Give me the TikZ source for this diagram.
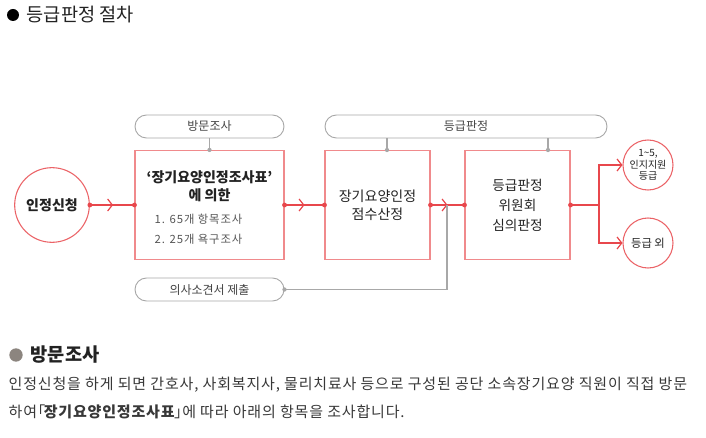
\documentclass[tikz,border=0pt]{standalone}
\usepackage{fontspec}
\setmainfont{Noto Sans CJK KR}
\usetikzlibrary{arrows.meta,decorations.markings}
\definecolor{linered}{HTML}{E8474C}
\definecolor{boxred}{HTML}{F08A8C}
\definecolor{pillgray}{HTML}{A8A8A8}
\definecolor{txtdark}{HTML}{222222}
\definecolor{listgray}{HTML}{555555}
\definecolor{dotgray}{HTML}{8C857F}
\tikzset{
  stepbox/.style={draw=boxred, line width=0.8pt, minimum height=81.75pt, inner sep=0pt},
  pill/.style={draw=pillgray, line width=0.7pt, rounded corners=8.6pt, minimum height=17.25pt,
    inner sep=0pt, font=\fontsize{9}{11}\selectfont, text=txtdark!85},
  redcirc/.style={circle, draw=linered!85, line width=0.8pt, inner sep=0pt, align=center},
  redline/.style={draw=linered, line width=0.9pt},
  grayline/.style={draw=pillgray, line width=0.8pt},
  chev/.style={postaction={decorate, decoration={markings,
    mark=at position #1 with {\arrow{Straight Barb[length=3.5pt,width=9pt,line width=0.9pt]}}}}},
  tip/.style={-{Straight Barb[length=3.5pt,width=9pt,line width=0.9pt]}},
}
\begin{document}
\begin{tikzpicture}[x=0.75pt, y=-0.75pt, text=txtdark]
\useasboundingbox (0,0) rectangle (706,438);
% title
\node[circle, fill=black, minimum size=9pt, inner sep=0pt] (tdot) at (13,15) {};
\node[anchor=west, font=\fontsize{14}{15}\selectfont] (title) at (22,15) {등급판정 절차};
% main flow
\node[redcirc, minimum size=56pt, font=\fontsize{10.5}{12}\selectfont\bfseries] (apply) at (52,205) {인정신청};
\node[stepbox, minimum width=111.75pt] (box1) at (209.5,205) {};
\node[stepbox, minimum width=78.75pt] (box2) at (377.5,205) {};
\node[stepbox, minimum width=78.75pt] (box3) at (517.5,205) {};
\node[redcirc, minimum size=37.5pt, font=\fontsize{7.5}{8.5}\selectfont] (grade1) at (648,165) {1\textasciitilde5,\\인지지원\\등급};
\node[redcirc, minimum size=37.5pt, font=\fontsize{8.5}{10}\selectfont] (grade2) at (648,243) {등급 외};
% box texts
\node[font=\fontsize{10.5}{13.5}\selectfont\bfseries, align=center] (b1title) at (209.5,186) {‘장기요양인정조사표’\\에 의한};
\node[anchor=west, font=\fontsize{8.5}{10}\selectfont\addfontfeatures{LetterSpace=8}, text=listgray] (item1) at (150,219) {1. 65개 항목조사};
\node[anchor=west, font=\fontsize{8.5}{10}\selectfont\addfontfeatures{LetterSpace=8}, text=listgray] (item2) at (150,239) {2. 25개 욕구조사};
\node[font=\fontsize{10.5}{13.5}\selectfont, align=center] (b2text) at (377.5,205) {장기요양인정\\점수산정};
\node[font=\fontsize{10.25}{15}\selectfont, align=center] (b3text) at (517.5,205) {등급판정\\위원회\\심의판정};
% pills
\node[pill, minimum width=111.75pt] (visit) at (209.5,126.5) {방문조사};
\node[pill, minimum width=211.5pt] (judge) at (466,126.5) {등급판정};
\node[pill, minimum width=111.75pt] (doctor) at (209.5,289.5) {의사소견서 제출};
\coordinate (g1) at (387,150);
\coordinate (g2) at (548,150);
\coordinate (join) at (447,205);
\coordinate (fork) at (599,205);
% red connectors
\draw[redline, chev=0.52] (apply.east) -- (box1.west);
\draw[redline, chev=0.5] (box1.east) -- (box2.west);
\draw[redline, chev=0.5] (box2.east) -- (box3.west);
\draw[redline] (box3.east) -- (fork);
\draw[redline, tip] (fork) |- (grade1.west);
\draw[redline, tip] (fork) |- (grade2.west);
\foreach \p in {apply.east, box1.west, box1.east, box2.west, box2.east, box3.west, box3.east}
  \fill[linered] (\p) circle (1.8pt);
% gray connectors
\draw[grayline] (visit.south) -- (box1.north);
\draw[grayline] (judge.south -| g1) -- (g1);
\draw[grayline] (judge.south -| g2) -- (g2);
\draw[grayline] (doctor.east) -| (join);
\foreach \p in {box1.north, g1, g2, doctor.east}
  \fill[pillgray] (\p) circle (1.6pt);
% description
\node[circle, fill=dotgray, minimum size=10pt, inner sep=0pt] (hdot) at (16,355) {};
\node[anchor=west, font=\fontsize{14}{15}\selectfont\bfseries] (head) at (26,355) {방문조사};
\node[anchor=west, font=\fontsize{11.25}{12}\selectfont\addfontfeatures{LetterSpace=5.5}, text=txtdark!90] (para1) at (4,385)
  {인정신청을 하게 되면 간호사, 사회복지사, 물리치료사 등으로 구성된 공단 소속장기요양 직원이 직접 방문};
\node[anchor=west, font=\fontsize{11.25}{12}\selectfont\addfontfeatures{LetterSpace=5.5}, text=txtdark!90] (para2) at (4,412)
  {하여\kern-0.45em「\kern-0.1em\textbf{장기요양인정조사표}\kern-0.1em」\kern-0.45em에 따라 아래의 항목을 조사합니다.};
\end{tikzpicture}
\end{document}
